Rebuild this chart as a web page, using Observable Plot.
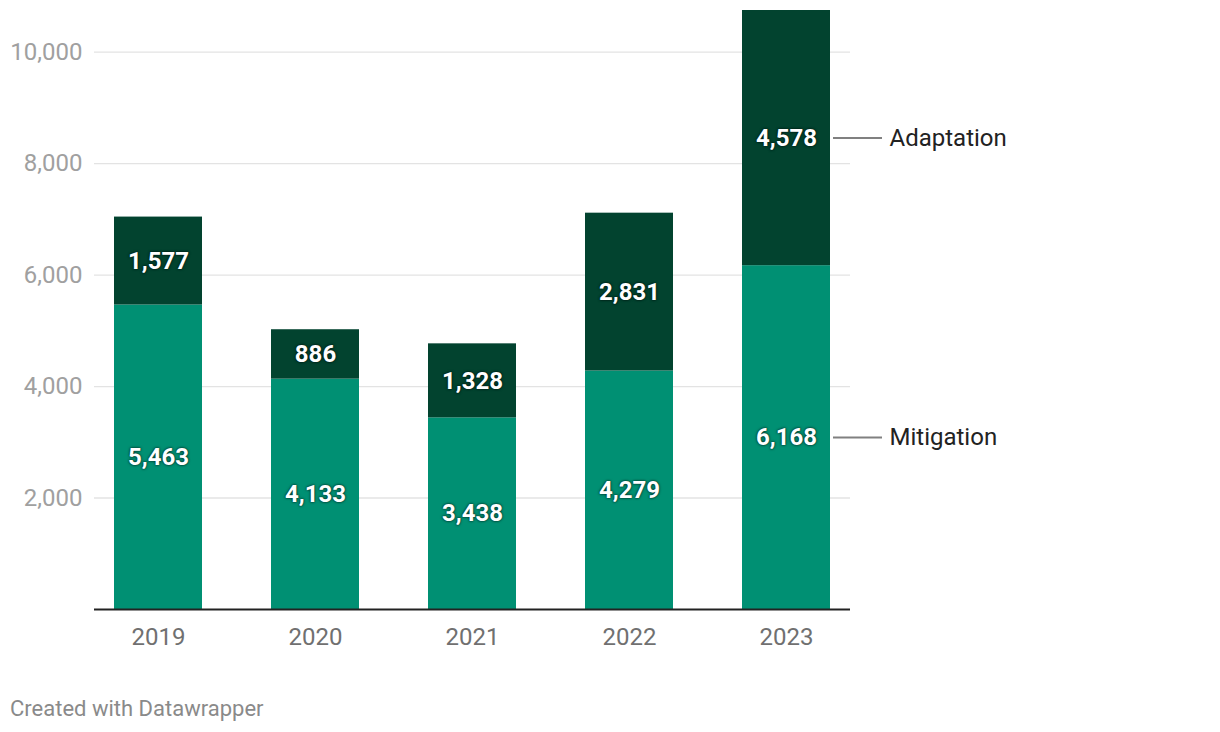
<!DOCTYPE html>
<html>
<head>
<meta charset="utf-8">
<script src="https://cdn.jsdelivr.net/npm/d3@7"></script>
<script src="https://cdn.jsdelivr.net/npm/@observablehq/plot@0.6"></script>
<style>
  body { margin: 0; background: #fff; font-family: Roboto, sans-serif; }
  #chart { position: absolute; left: 0; top: 0; }
  .footer { position: absolute; left: 10px; top: 696px; font-size: 22px; color: #8a8a8a; font-family: Roboto, sans-serif; }
  .seglbl text { text-shadow: 0 0 3px rgba(0,0,0,0.6), 0 0 2px rgba(0,0,0,0.5); }
</style>
</head>
<body>
<div id="chart"></div>
<div class="footer">Created with Datawrapper</div>
<script>
const years = ["2019", "2020", "2021", "2022", "2023"];
const mitigation = [5463, 4133, 3438, 4279, 6168];
const adaptation = [1577, 886, 1328, 2831, 4578];
const seriesNames = ["Mitigation", "Adaptation"];
const seriesColors = ["#009073", "#02432f"];
const yTicks = [2000, 4000, 6000, 8000, 10000];

const data = [];
years.forEach((yr, i) => {
  data.push({year: yr, series: "Mitigation", value: mitigation[i]});
  data.push({year: yr, series: "Adaptation", value: adaptation[i]});
});
const last = years.length - 1;
const rightLabels = [
  {year: years[last], series: "Mitigation", mid: mitigation[last] / 2},
  {year: years[last], series: "Adaptation", mid: mitigation[last] + adaptation[last] / 2}
];
const fmt = d3.format(",");

const chart = Plot.plot({
  width: 1220,
  height: 660,
  marginLeft: 94,
  marginRight: 370,
  marginTop: 10,
  marginBottom: 51,
  style: {fontFamily: "Roboto, sans-serif", background: "transparent"},
  x: {domain: years, paddingInner: 0.44, paddingOuter: 0.12, label: null},
  y: {domain: [0, 10746], label: null},
  color: {domain: seriesNames, range: seriesColors},
  marks: [
    Plot.gridY(yTicks, {stroke: "#e3e3e3", strokeOpacity: 1, strokeWidth: 1.3}),
    Plot.axisY(yTicks, {tickSize: 0, tickPadding: 12, tickFormat: fmt, fontSize: 24, fill: "#a0a0a0", label: null}),
    Plot.axisX({tickSize: 0, tickPadding: 18, fontSize: 24, fill: "#707070", label: null}),
    Plot.barY(data, {x: "year", y: "value", fill: "series", order: seriesNames}),
    Plot.ruleY([0], {stroke: "#222", strokeWidth: 2}),
    Plot.text(data, Plot.stackY({x: "year", y: "value", z: "series", order: seriesNames, text: d => fmt(d.value), fill: "white", fontSize: 24, fontWeight: "bold", className: "seglbl"})),
    Plot.tickY(rightLabels, {x: "year", y: "mid", dx: 91, insetRight: 39, stroke: "#808080", strokeWidth: 2}),
    Plot.text(rightLabels, {x: "year", y: "mid", text: "series", dx: 103, textAnchor: "start", fontSize: 24, fill: "#222"})
  ]
});
document.getElementById("chart").appendChild(chart);
</script>
</body>
</html>
